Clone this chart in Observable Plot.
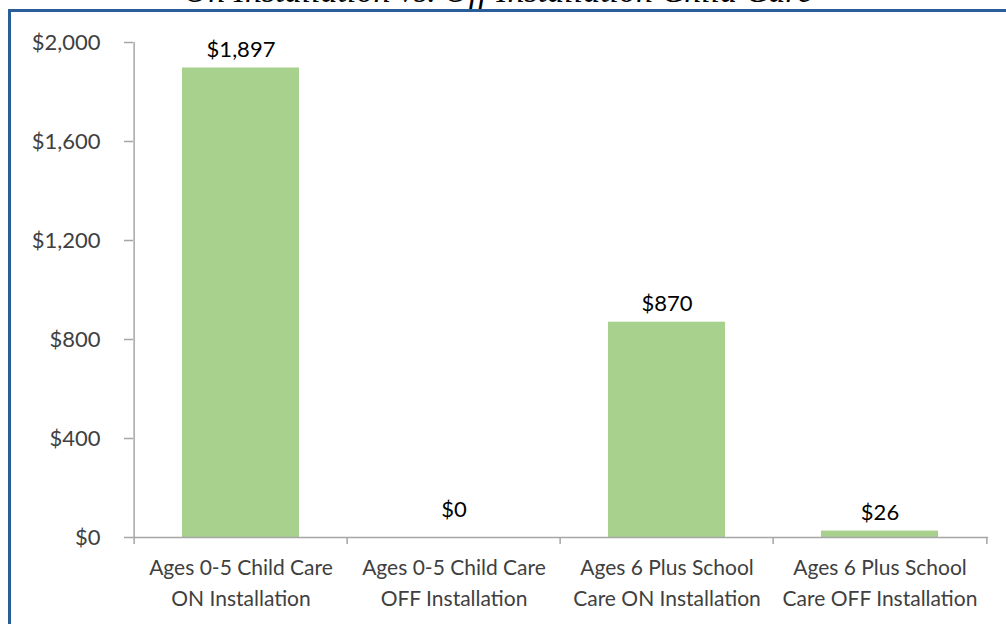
<!DOCTYPE html>
<html>
<head>
<meta charset="utf-8">
<script src="https://cdn.jsdelivr.net/npm/d3@7"></script>
<script src="https://cdn.jsdelivr.net/npm/@observablehq/plot@0.6"></script>
<style>
  html, body { margin: 0; padding: 0; background: #fff; overflow: hidden; }
  #wrap { position: relative; width: 1006px; height: 624px; overflow: hidden; }
  #title { position: absolute; left: 0; width: 996px; top: -26px; text-align: center; line-height: 34px;
    font-family: "Liberation Serif", "DejaVu Serif", serif; font-style: italic; font-size: 34px; color: #000; white-space: nowrap; }
  #border { position: absolute; left: 8px; top: 9px; width: 1100px; height: 700px;
    border: 3px solid #2a5e9b; box-sizing: border-box; }
  #chart { position: absolute; left: 0; top: 0; }
</style>
</head>
<body>
<div id="wrap">
  <div id="title">On Installation vs. Off Installation Child Care</div>
  <div id="border"></div>
  <div id="chart"></div>
</div>
<script>
const categories = [
  "Ages 0-5 Child Care\nON Installation",
  "Ages 0-5 Child Care\nOFF Installation",
  "Ages 6 Plus School\nCare ON Installation",
  "Ages 6 Plus School\nCare OFF Installation"
];
const values = [1897, 0, 870, 26];
const yTicks = [0, 400, 800, 1200, 1600, 2000];

const data = categories.map((c, i) => ({category: c, value: values[i]}));
const fmt = d => "$" + d3.format(",")(d);

const W = 1006, H = 624, ML = 133, MR = 18;
const step = (W - ML - MR) / categories.length;
const font = "Lato, 'Open Sans', sans-serif";
const textColor = "#404040";
const axisColor = "#a6a6a6";

const chart = Plot.plot({
  width: W,
  height: H,
  marginLeft: ML,
  marginRight: MR,
  marginTop: 42,
  marginBottom: 87,
  style: {fontFamily: font, background: "transparent", overflow: "visible"},
  x: {domain: categories, paddingInner: 0.45, paddingOuter: 0.225, axis: null},
  y: {domain: [0, 2000], axis: null},
  marks: [
    Plot.barY(data, {x: "category", y: "value", fill: "#a9d18e"}),
    // y axis line
    Plot.ruleX([categories[0]], {x: d => d, dx: -step / 2, y1: 0, y2: 2000, stroke: axisColor, strokeWidth: 1.5}),
    // x axis line
    Plot.ruleY([0], {stroke: axisColor, strokeWidth: 1.5}),
    // category boundary ticks
    Plot.ruleX(categories, {x: d => d, dx: -step / 2, y1: 0, y2: 0, insetBottom: -7, stroke: axisColor, strokeWidth: 1.5}),
    Plot.ruleX([categories[categories.length - 1]], {x: d => d, dx: step / 2, y1: 0, y2: 0, insetBottom: -7, stroke: axisColor, strokeWidth: 1.5}),
    // y ticks
    Plot.axisY({ticks: yTicks, tickSize: 9, tickPadding: 24, tickFormat: fmt, stroke: axisColor, strokeWidth: 1.5,
      fontSize: 22, fill: textColor, label: null}),
    // x labels
    Plot.axisX({tickSize: 0, tickPadding: 16, fontSize: 21, lineHeight: 1.45, fill: textColor, label: null}),
    // value labels
    Plot.text(data.filter(d => d.value > 0), {x: "category", y: "value", text: d => fmt(d.value), dy: -18, fontSize: 22, fill: "#000"}),
    Plot.text(data.filter(d => d.value === 0), {x: "category", y: "value", text: d => fmt(d.value), dy: -28, fontSize: 22, fill: "#000"})
  ]
});
document.getElementById("chart").appendChild(chart);
</script>
</body>
</html>
